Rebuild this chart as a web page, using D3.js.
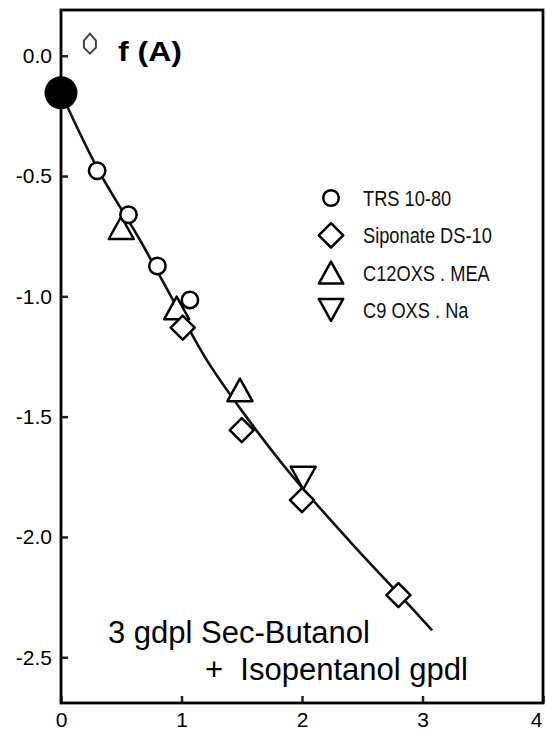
<!DOCTYPE html>
<html>
<head>
<meta charset="utf-8">
<script src="https://cdn.jsdelivr.net/npm/d3@7"></script>
<style>
  html, body { margin: 0; padding: 0; background: #fff; }
  svg { display: block; }
</style>
</head>
<body>
<svg id="chart" width="546" height="732"></svg>
<script>
// Surfactant series (x, f(A)) and the fitted curve
const trsPoints       = [[0.30, -0.478], [0.56, -0.661], [0.80, -0.874], [1.07, -1.015]];
const siponatePoints  = [[1.01, -1.13], [1.50, -1.556], [2.00, -1.847], [2.80, -2.242]];
const c12oxsPoints    = [[0.50, -0.715], [0.96, -1.048], [1.485, -1.389]];
const c9oxsPoints     = [[2.01, -1.755]];
const originPoint     = [0.0, -0.154];
const keyMarkPoint    = [0.24, 0.05];
const curvePoints     = [[0, -0.155], [0.31, -0.475], [0.66, -0.77], [1.0, -1.08], [1.21, -1.265],
                         [1.5, -1.475], [1.9, -1.735], [2.4, -2.02], [2.8, -2.235], [3.08, -2.388]];

const xTicks = [0, 1, 2, 3, 4];
const yTicks = [0.0, -0.5, -1.0, -1.5, -2.0, -2.5];
const legendLabels = ["TRS 10-80", "Siponate DS-10", "C12OXS . MEA", "C9 OXS . Na"];
const legendShapes = ["circle", "diamond", "triangleUp", "triangleDown"];
const panelLabel = "f (A)";
const noteLines = ["3 gdpl Sec-Butanol", "+  Isopentanol gpdl"];

const svg = d3.select("#chart");
const plotLeft = 61, plotRight = 543, plotTop = 10, plotBottom = 703;

const x = d3.scaleLinear().domain([0, 4]).range([plotLeft, plotRight]);
const y = d3.scaleLinear().domain([-2.69, 0.19]).range([plotBottom, plotTop]);

// marker outlines
function shapePath(type, s) {
  if (type === "circle") {
    return `M${-s},0A${s},${s} 0 1,0 ${s},0A${s},${s} 0 1,0 ${-s},0Z`;
  }
  if (type === "diamond") {
    return `M0,${-s}L${s},0L0,${s}L${-s},0Z`;
  }
  if (type === "triangleUp") {
    const h = s * 0.9;
    return `M0,${-h}L${s},${h}L${-s},${h}Z`;
  }
  if (type === "triangleDown") {
    const h = s * 0.9;
    return `M0,${h}L${s},${-h}L${-s},${-h}Z`;
  }
}
const sizeOf = { circle: 8.2, diamond: 12, triangleUp: 12.5, triangleDown: 12.5 };

// axes
const yAxis = d3.axisLeft(y)
  .tickValues(yTicks)
  .tickSize(-7)
  .tickSizeOuter(0)
  .tickPadding(9)
  .tickFormat(d => d.toFixed(1));
const xAxis = d3.axisBottom(x)
  .tickValues(xTicks)
  .tickSize(-7)
  .tickSizeOuter(0)
  .tickPadding(10)
  .tickFormat(d => String(d));

const gy = svg.append("g").attr("transform", `translate(${plotLeft},0)`).call(yAxis);
const gx = svg.append("g").attr("transform", `translate(0,${plotBottom})`).call(xAxis);
[gx, gy].forEach(g => {
  g.select(".domain").remove();
  g.selectAll(".tick line").attr("stroke", "#222").attr("stroke-width", 2.5);
  g.selectAll(".tick text")
    .attr("fill", "#000")
    .style("font-family", "'Liberation Sans', Arial, sans-serif")
    .style("font-size", "21px");
});
gx.selectAll(".tick text").attr("dy", "0.68em");
gx.selectAll(".tick").filter(d => d === 4).select("text").attr("text-anchor", "end").attr("dx", "-0.05em");

// frame
svg.append("rect")
  .attr("x", plotLeft).attr("y", plotTop)
  .attr("width", plotRight - plotLeft).attr("height", plotBottom - plotTop)
  .attr("fill", "none").attr("stroke", "#000").attr("stroke-width", 2.8);

// fitted curve
const line = d3.line().x(d => x(d[0])).y(d => y(d[1])).curve(d3.curveCatmullRom.alpha(0.5));
svg.append("path")
  .datum(curvePoints)
  .attr("d", line)
  .attr("fill", "none")
  .attr("stroke", "#111")
  .attr("stroke-width", 2.6);

// starting point
svg.append("circle")
  .attr("cx", x(originPoint[0])).attr("cy", y(originPoint[1]))
  .attr("r", 16.5).attr("fill", "#000");

// series markers
const series = [
  { shape: "triangleUp", pts: c12oxsPoints },
  { shape: "diamond", pts: siponatePoints },
  { shape: "triangleDown", pts: c9oxsPoints },
  { shape: "circle", pts: trsPoints }
];
series.forEach(sr => {
  svg.append("g").selectAll("path")
    .data(sr.pts)
    .join("path")
    .attr("transform", d => `translate(${x(d[0])},${y(d[1])})`)
    .attr("d", shapePath(sr.shape, sizeOf[sr.shape]))
    .attr("fill", "#fff")
    .attr("stroke", "#000")
    .attr("stroke-width", 2.5)
    .attr("stroke-linejoin", "round");
});

// small key mark beside the panel label
svg.append("path")
  .attr("transform", `translate(${x(keyMarkPoint[0])},${y(keyMarkPoint[1])})`)
  .attr("d", "M0,-10L6,-3L6,4L0,10L-6,4L-6,-3Z")
  .attr("fill", "#fff").attr("stroke", "#444").attr("stroke-width", 2);

// panel label
svg.append("text")
  .attr("x", 118).attr("y", 61)
  .attr("textLength", 64).attr("lengthAdjust", "spacingAndGlyphs")
  .style("font-family", "'Liberation Sans', Arial, sans-serif")
  .style("font-weight", "bold").style("font-size", "27px")
  .text(panelLabel);

// legend (condensed lettering)
const legend = svg.append("g");
legendLabels.forEach((lab, i) => {
  const cy = 198 + i * 37.3;
  const sh = legendShapes[i];
  legend.append("path")
    .attr("transform", `translate(331,${cy})`)
    .attr("d", shapePath(sh, sh === "circle" ? 7.8 : 12.2))
    .attr("fill", "#fff").attr("stroke", "#000").attr("stroke-width", 2.5)
    .attr("stroke-linejoin", "round");
  legend.append("text")
    .attr("transform", `translate(363,${cy}) scale(0.83,1)`)
    .attr("dy", "0.36em")
    .style("font-family", "'Liberation Sans', Arial, sans-serif")
    .style("font-size", "22px")
    .attr("fill", "#111")
    .text(lab);
});

// composition note
svg.append("text").attr("x", 108).attr("y", 643)
  .style("font-family", "'Liberation Sans', Arial, sans-serif").style("font-size", "31px")
  .text(noteLines[0]);
svg.append("text").attr("x", 205).attr("y", 680)
  .attr("xml:space", "preserve").style("white-space", "pre")
  .style("font-family", "'Liberation Sans', Arial, sans-serif").style("font-size", "31px")
  .text(noteLines[1]);
</script>
</body>
</html>
